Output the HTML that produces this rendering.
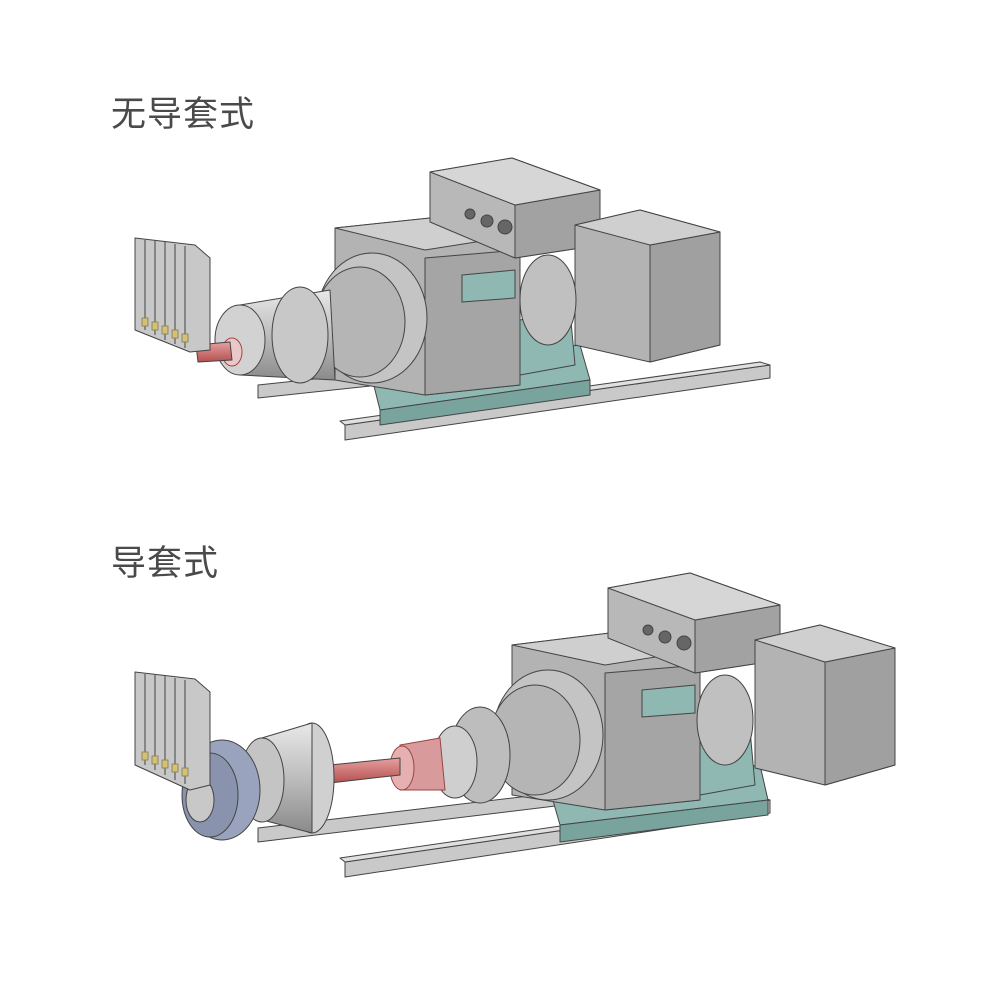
<!DOCTYPE html>
<html><head><meta charset="utf-8"><style>
html,body{margin:0;padding:0;background:#fff;}
.t{position:absolute;font-family:"Liberation Sans","Noto Sans CJK SC",sans-serif;font-size:35px;color:#4a4a4a;letter-spacing:1px;line-height:40px}
</style></head><body>
<div style="position:relative;width:1000px;height:1000px;overflow:hidden">
<div class="t" style="left:111px;top:95px">无导套式</div>
<div class="t" style="left:111px;top:544px">导套式</div>
<svg width="1000" height="1000" style="position:absolute;left:0;top:0" stroke="#444" stroke-width="1" stroke-linejoin="round">
<defs>
<linearGradient id="cyl" x1="0" y1="0" x2="0" y2="1"><stop offset="0" stop-color="#e8e8e8"/><stop offset=".5" stop-color="#bdbdbd"/><stop offset="1" stop-color="#8a8a8a"/></linearGradient>
<linearGradient id="red" x1="0" y1="0" x2="0" y2="1"><stop offset="0" stop-color="#e6a0a0"/><stop offset="1" stop-color="#b55050"/></linearGradient>
</defs>
<g>
<polygon points="345,425 770,365 770,378 345,440" fill="#c9c9c9"/>
<polygon points="345,425 770,365 760,362 340,421" fill="#e0e0e0"/>
<polygon points="258,385 540,355 540,368 258,398" fill="#c9c9c9"/>
<polygon points="370,370 580,345 590,380 380,410" fill="#8fb8b2"/>
<polygon points="380,410 590,380 590,395 380,425" fill="#79a39d"/>
<polygon points="335,228 430,218 520,235 520,385 425,395 335,380" fill="#b3b3b3"/>
<polygon points="425,258 520,250 520,385 425,395" fill="#a5a5a5"/>
<polygon points="335,228 430,218 520,235 425,250" fill="#cfcfcf"/>
<polygon points="462,275 515,270 515,298 462,302" fill="#8fb8b2"/>
<ellipse cx="372" cy="318" rx="55" ry="65" fill="#c4c4c4"/>
<ellipse cx="360" cy="322" rx="45" ry="55" fill="#b5b5b5"/>
<polygon points="430,172 512,158 600,190 600,245 515,258 430,222" fill="#b8b8b8"/>
<polygon points="515,205 600,190 600,245 515,258" fill="#a2a2a2"/>
<polygon points="430,172 512,158 600,190 515,205" fill="#d6d6d6"/>
<circle cx="470" cy="214" r="5" fill="#666"/><circle cx="487" cy="221" r="6" fill="#666"/><circle cx="505" cy="227" r="7" fill="#666"/>
<polygon points="575,225 640,210 720,232 720,345 650,362 575,345" fill="#b3b3b3"/>
<polygon points="650,245 720,232 720,345 650,362" fill="#a0a0a0"/>
<polygon points="575,225 640,210 720,232 650,245" fill="#cfcfcf"/>
<polygon points="520,320 570,310 575,365 520,375" fill="#8fb8b2"/>
<ellipse cx="548" cy="300" rx="28" ry="45" fill="#c0c0c0"/>
<polygon points="240,305 330,290 335,380 240,375" fill="url(#cyl)"/>
<ellipse cx="300" cy="335" rx="28" ry="48" fill="#c8c8c8"/>
<ellipse cx="240" cy="340" rx="25" ry="35" fill="#d2d2d2"/>
<ellipse cx="232" cy="352" rx="10" ry="14" fill="#e8c8c8" stroke="#a44"/>
<polygon points="196,345 230,342 232,360 198,362" fill="url(#red)"/>
<polygon points="135,238 195,245 210,258 210,350 190,352 135,330" fill="#c8c8c8"/>
<g stroke="#444"><line x1="145" y1="240" x2="145" y2="330"/><line x1="155" y1="241" x2="155" y2="335"/><line x1="165" y1="242" x2="165" y2="340"/><line x1="175" y1="244" x2="175" y2="344"/><line x1="185" y1="246" x2="185" y2="348"/></g>
<g fill="#d8c070" stroke="#886"><rect x="142" y="318" width="6" height="8"/><rect x="152" y="322" width="6" height="8"/><rect x="162" y="326" width="6" height="8"/><rect x="172" y="330" width="6" height="8"/><rect x="182" y="334" width="6" height="8"/></g>
</g>
<g>
<polygon points="345,862 770,800 770,813 345,877" fill="#c9c9c9"/>
<polygon points="345,862 770,800 760,797 340,858" fill="#e0e0e0"/>
<polygon points="258,828 580,790 580,803 258,842" fill="#c9c9c9"/>
<polygon points="550,790 760,765 768,800 560,825" fill="#8fb8b2"/>
<polygon points="560,825 768,800 768,815 560,842" fill="#79a39d"/>
<polygon points="512,645 610,633 700,650 700,800 605,810 512,795" fill="#b3b3b3"/>
<polygon points="605,673 700,665 700,800 605,810" fill="#a5a5a5"/>
<polygon points="512,645 610,633 700,650 605,665" fill="#cfcfcf"/>
<polygon points="642,690 695,685 695,713 642,717" fill="#8fb8b2"/>
<ellipse cx="548" cy="735" rx="55" ry="65" fill="#c4c4c4"/>
<ellipse cx="535" cy="740" rx="45" ry="55" fill="#b5b5b5"/>
<polygon points="608,588 690,573 780,605 780,660 695,673 608,638" fill="#b8b8b8"/>
<polygon points="695,620 780,605 780,660 695,673" fill="#a2a2a2"/>
<polygon points="608,588 690,573 780,605 695,620" fill="#d6d6d6"/>
<circle cx="648" cy="630" r="5" fill="#666"/><circle cx="665" cy="637" r="6" fill="#666"/><circle cx="684" cy="643" r="7" fill="#666"/>
<polygon points="755,640 820,625 895,648 895,765 825,785 755,768" fill="#b3b3b3"/>
<polygon points="825,662 895,648 895,765 825,785" fill="#a0a0a0"/>
<polygon points="755,640 820,625 895,648 825,662" fill="#cfcfcf"/>
<polygon points="700,740 750,730 755,785 700,795" fill="#8fb8b2"/>
<ellipse cx="725" cy="720" rx="28" ry="45" fill="#c0c0c0"/>
<ellipse cx="480" cy="755" rx="30" ry="48" fill="#bdbdbd"/>
<ellipse cx="455" cy="762" rx="22" ry="36" fill="#cfcfcf"/>
<polygon points="400,745 440,738 445,790 400,790" fill="#d89a9a" stroke="#944"/>
<ellipse cx="402" cy="768" rx="12" ry="22" fill="#e6b0b0" stroke="#944"/>
<polygon points="330,765 400,758 400,775 330,783" fill="url(#red)"/>
<ellipse cx="312" cy="778" rx="22" ry="55" fill="#d0d0d0"/>
<polygon points="255,740 312,723 312,833 255,818" fill="url(#cyl)"/>
<ellipse cx="262" cy="780" rx="22" ry="42" fill="#c4c4c4"/>
<ellipse cx="222" cy="790" rx="38" ry="50" fill="#9aa3bd"/>
<ellipse cx="210" cy="795" rx="28" ry="42" fill="#8a93ad"/>
<ellipse cx="200" cy="800" rx="14" ry="22" fill="#c8c8c8"/>
<polygon points="135,672 195,679 210,692 210,785 190,790 135,765" fill="#c8c8c8"/>
<g stroke="#444"><line x1="145" y1="674" x2="145" y2="765"/><line x1="155" y1="675" x2="155" y2="770"/><line x1="165" y1="676" x2="165" y2="775"/><line x1="175" y1="678" x2="175" y2="780"/><line x1="185" y1="680" x2="185" y2="784"/></g>
<g fill="#d8c070" stroke="#886"><rect x="142" y="752" width="6" height="8"/><rect x="152" y="756" width="6" height="8"/><rect x="162" y="760" width="6" height="8"/><rect x="172" y="764" width="6" height="8"/><rect x="182" y="768" width="6" height="8"/></g>
</g>
</svg>
</div>
</body></html>
